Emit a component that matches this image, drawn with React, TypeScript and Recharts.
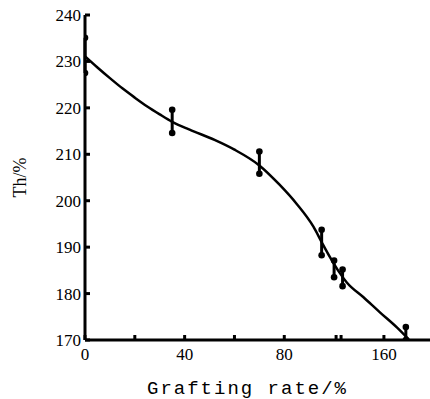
import React from 'react';
import { ComposedChart, Line, Scatter, ErrorBar, XAxis, YAxis, Label } from 'recharts';

// measured points (grafting rate %, Th %, half error)
const rates = [0, 35, 70, 95, 100, 143.4, 168.8];
const thValues = [231.3, 217.1, 208.2, 191.0, 185.3, 183.4, 171.4];
const thErrors = [3.8, 2.5, 2.4, 2.75, 1.8, 1.8, 1.4];

// fitted curve
const curveRates = [0, 5, 10, 15, 20, 25, 30, 35, 42, 52, 60, 70, 78, 85, 91.7, 95, 98.4, 101.7, 145.1, 151.8, 158.5, 165.2, 170];
const curveTh = [231.1, 228.7, 226.4, 224.2, 222.2, 220.3, 218.6, 217.0, 215.3, 213.1, 211.0, 207.6, 203.5, 199.3, 194.4, 191.1, 187.8, 184.9, 182.4, 179.2, 175.9, 172.7, 170.1];

const xTickRates = [0, 20, 40, 60, 80, 160];
const xTickLabels = ['0', '', '40', '', '80', '160'];
const yTicks = [170, 180, 190, 200, 210, 220, 230, 240];

// axis break: values above BREAK_AT are shifted left by BREAK_GAP
const BREAK_AT = 102;
const BREAK_GAP = 40;
const breakMarks = [100.8, 102.8];
const pos = (r: number) => (r <= BREAK_AT ? r : r - BREAK_GAP);

const points = rates.map((r, i) => ({ x: pos(r), y: thValues[i], err: thErrors[i] }));
const lows = rates.map((r, i) => ({ x: pos(r), y: thValues[i] - thErrors[i] }));
const highs = rates.map((r, i) => ({ x: pos(r), y: thValues[i] + thErrors[i] }));
const curve = curveRates.map((r, i) => ({ x: pos(r), y: curveTh[i] }));

const xTicks = [...xTickRates.map(pos), ...breakMarks].sort((a, b) => a - b);
const fmtX = (v: number) => {
  const i = xTickRates.findIndex((r) => pos(r) === v);
  return i >= 0 ? xTickLabels[i] : '';
};

const font = 'Liberation Serif, DejaVu Serif, serif';
const Dot = (p: any) => <circle cx={p.cx} cy={p.cy} r={3.3} fill="#000" />;
const NoShape = () => <g />;

export default function App() {
  return (
    <div style={{ position: 'absolute', left: 0, top: 0, background: '#fff' }}>
      <ComposedChart width={430} height={399} margin={{ top: 15, right: 0, bottom: 0, left: 30 }}>
        <XAxis
          type="number"
          dataKey="x"
          domain={[0, 138.5]}
          ticks={xTicks}
          interval={0}
          tickFormatter={fmtX}
          height={59}
          tickSize={-5}
          tickMargin={13}
          stroke="#000"
          strokeWidth={3}
          tick={{ fill: '#000', fontSize: 17, fontFamily: font }}
          allowDataOverflow
        >
          <Label
            value="Grafting rate/%"
            position="insideBottom"
            offset={5}
            dx={-10}
            style={{ fill: '#000', fontSize: 19, fontFamily: 'Liberation Mono, DejaVu Sans Mono, monospace', letterSpacing: 2 }}
          />
        </XAxis>
        <YAxis
          type="number"
          domain={[170, 240]}
          ticks={yTicks}
          interval={0}
          width={55}
          tickSize={-5}
          tickMargin={9}
          stroke="#000"
          strokeWidth={3}
          tick={{ fill: '#000', fontSize: 17, fontFamily: font }}
          allowDataOverflow
        >
          <Label
            content={(props: any) => {
              const vb = props.viewBox || { x: 30, y: 15, width: 55, height: 325 };
              const cx = vb.x - 10;
              const cy = vb.y + vb.height / 2;
              return (
                <text
                  x={cx}
                  y={cy}
                  transform={`rotate(-90 ${cx} ${cy})`}
                  textAnchor="middle"
                  dominantBaseline="central"
                  fill="#000"
                  fontSize={18}
                  fontFamily={font}
                >
                  Th/%
                </text>
              );
            }}
          />
        </YAxis>
        <Line
          data={curve}
          dataKey="y"
          type="monotone"
          stroke="#000"
          strokeWidth={2.5}
          dot={false}
          activeDot={false}
          isAnimationActive={false}
        />
        <Scatter data={points} dataKey="y" shape={NoShape} isAnimationActive={false}>
          <ErrorBar dataKey="err" direction="y" width={0} stroke="#000" strokeWidth={3} isAnimationActive={false} />
        </Scatter>
        <Scatter data={lows} dataKey="y" shape={Dot} isAnimationActive={false} />
        <Scatter data={highs} dataKey="y" shape={Dot} isAnimationActive={false} />
      </ComposedChart>
    </div>
  );
}
